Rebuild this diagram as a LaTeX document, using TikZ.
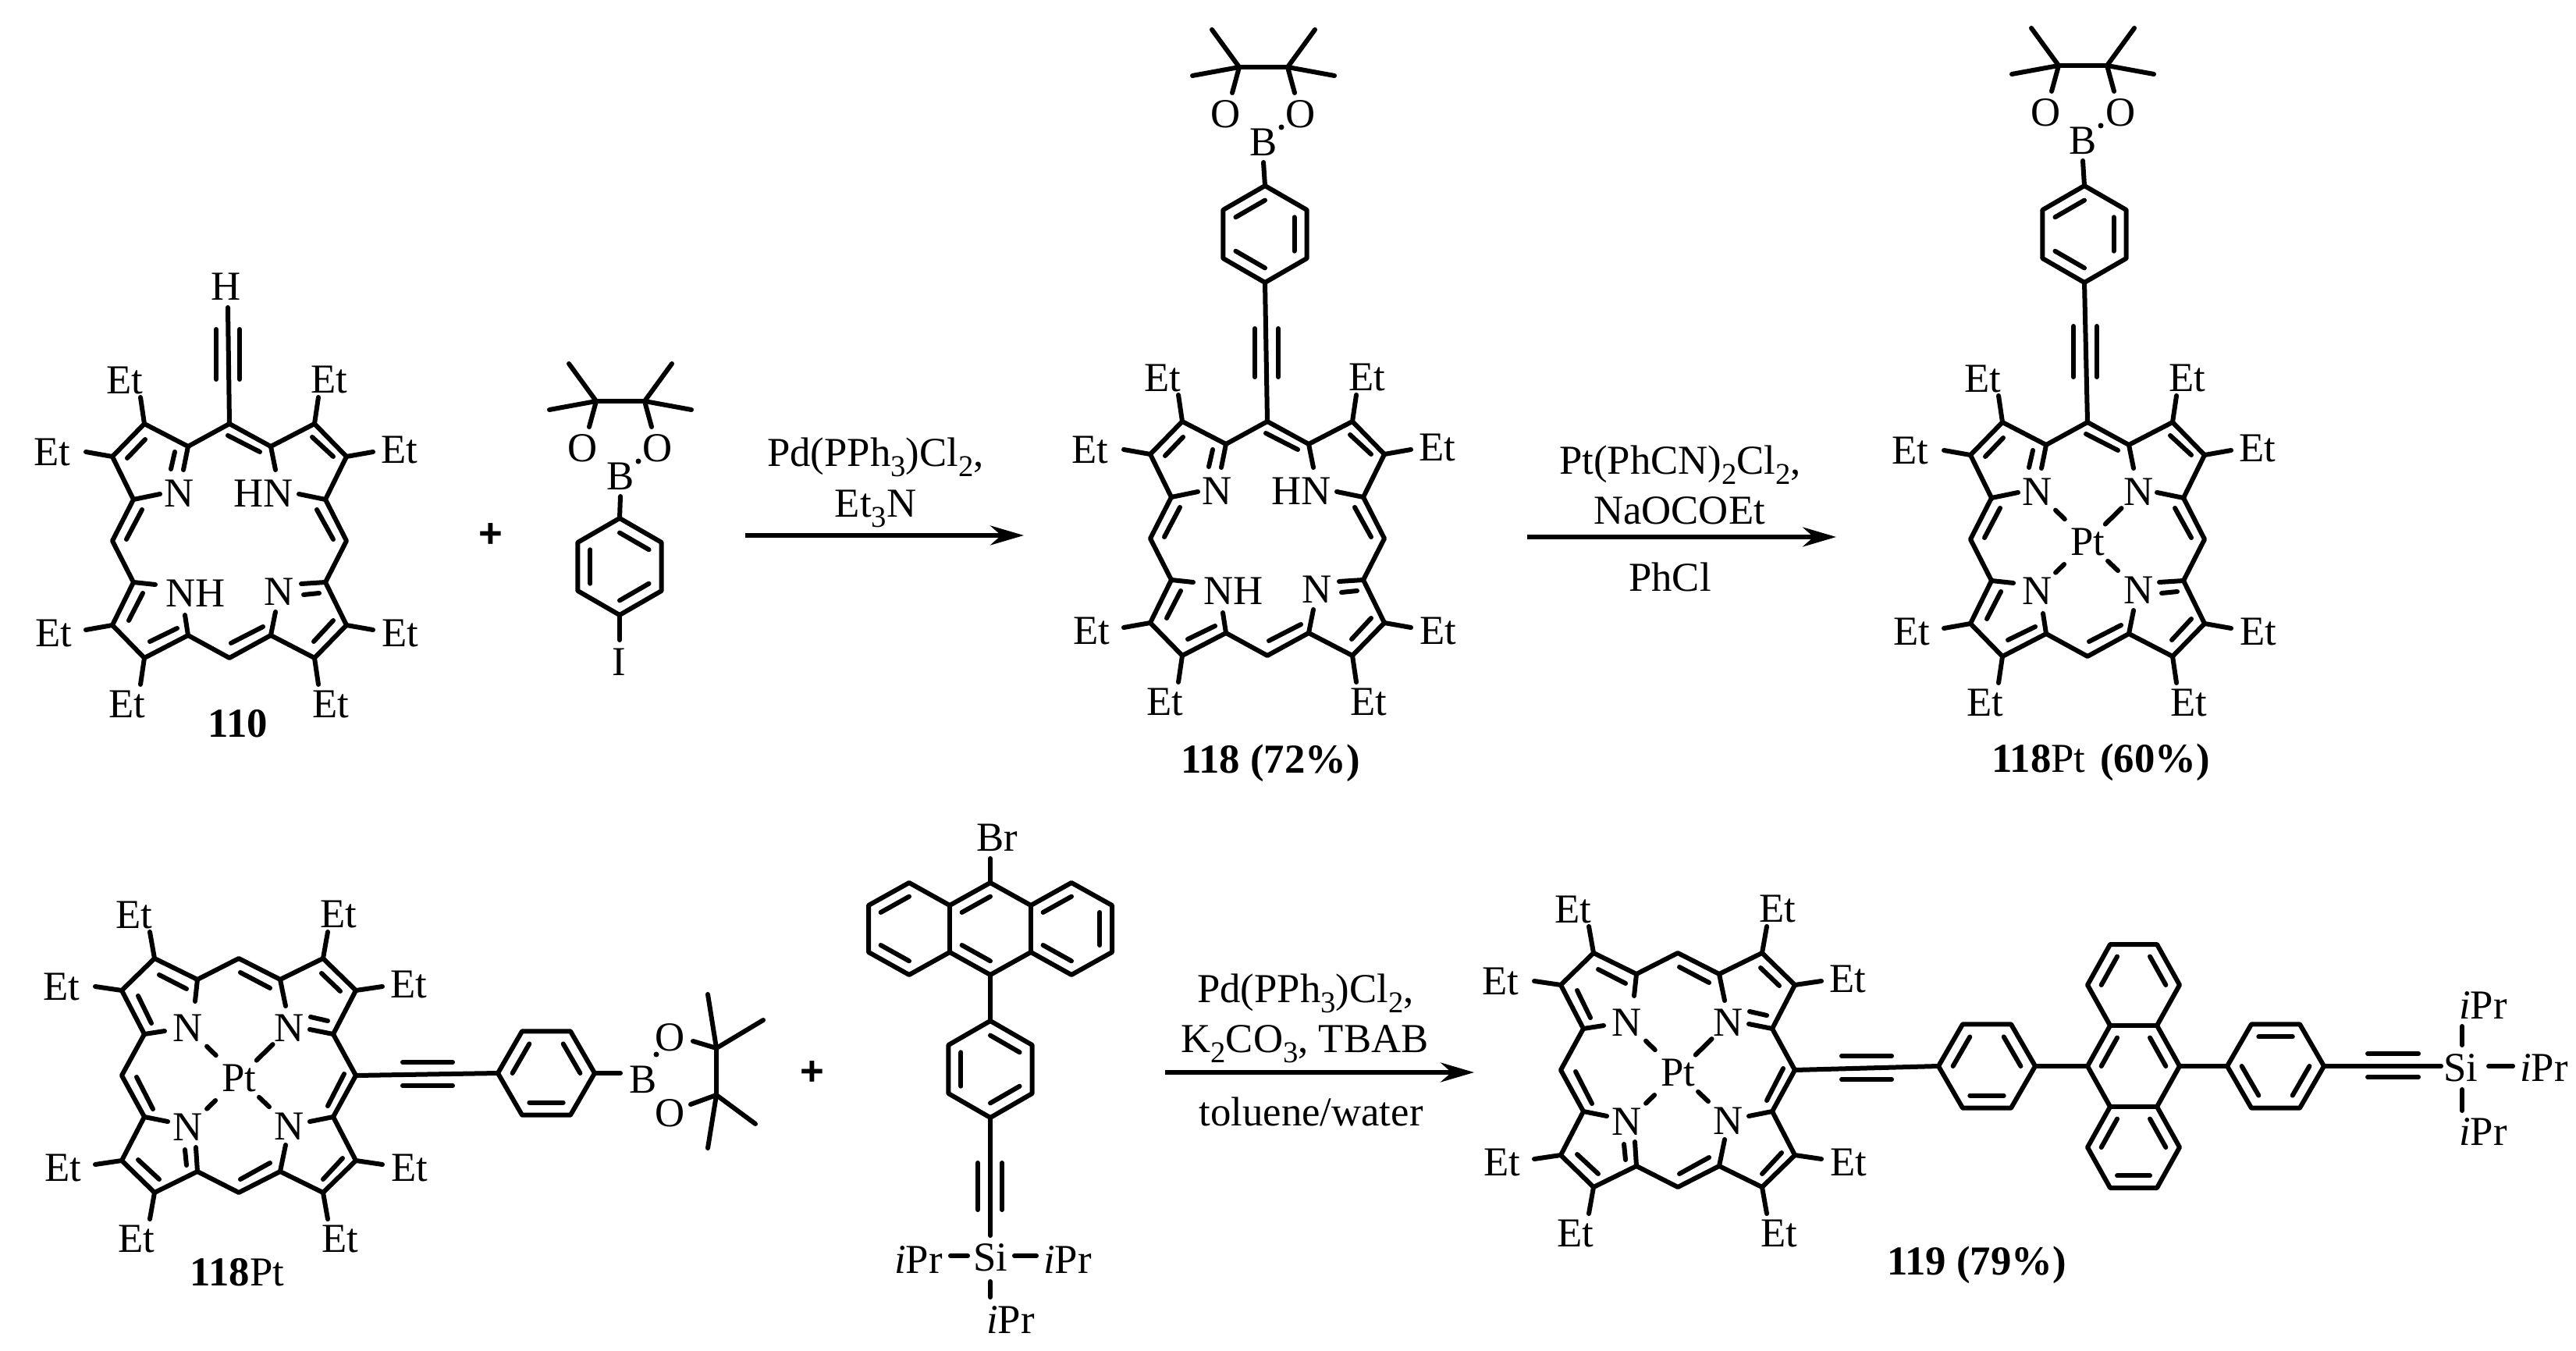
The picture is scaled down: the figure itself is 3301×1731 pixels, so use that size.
\documentclass[tikz,border=0pt]{standalone}
\usepackage{fontspec}
\setmainfont{Liberation Serif}
\newfontfamily\plusfont{Liberation Sans}
\usepackage{tikz}
\usetikzlibrary{arrows.meta}
\usetikzlibrary{calc}

\tikzset{bond/.style={line width=.06cm,line cap=round,line join=round}}
\tikzset{rxn/.style={line width=.055cm,-{Stealth[length=.43cm,width=.25cm]}}}
\tikzset{atom/.style={inner sep=0pt,font=\fontsize{15}{18}\selectfont}}
\tikzset{caption/.style={atom,anchor=base}}
\tikzset{plussign/.style={inner sep=0pt,font=\fontsize{15}{18}\selectfont\plusfont\bfseries}}

\newcommand{\chsub}[1]{\raisebox{-.25em}{\fontsize{11}{12}\selectfont #1}}

\newcommand{\porph}[4]{
\coordinate (#1) at (#2,#3);
\begin{scope}[shift={(#2,#3)},rotate=#4,name prefix=#1-]
\coordinate (m1) at (0,-150);
\coordinate (m2) at (150,0);
\coordinate (m3) at (0,150);
\coordinate (m4) at (-150,0);
\coordinate (a1) at (53,-121);
\coordinate (a2) at (123,-53);
\coordinate (a3) at (123,53);
\coordinate (a4) at (53,121);
\coordinate (a5) at (-53,121);
\coordinate (a6) at (-123,53);
\coordinate (a7) at (-123,-53);
\coordinate (a8) at (-53,-121);
\coordinate (b1) at (109,-150);
\coordinate (b2) at (150,-108);
\coordinate (b3) at (150,108);
\coordinate (b4) at (109,150);
\coordinate (b5) at (-109,150);
\coordinate (b6) at (-150,108);
\coordinate (b7) at (-150,-108);
\coordinate (b8) at (-109,-150);
\draw[bond] (m1) -- (a1) -- (b1) -- (b2) -- (a2) -- (m2) -- (a3) -- (b3) -- (b4) -- (a4) -- (m3)
 -- (a5) -- (b5) -- (b6) -- (a6) -- (m4) -- (a7) -- (b7) -- (b8) -- (a8) -- cycle;
\draw[bond] (-2,-135) -- (39,-114);
\draw[bond] (106,-133) -- (133,-108);
\draw[bond] (112,-40) -- (133,-2);
\draw[bond] (133,102) -- (108,129);
\draw[bond] (43,110) -- (2,131);
\draw[bond] (-67,112) -- (-102,129);
\draw[bond] (-111,67) -- (-129,102);
\draw[bond] (-112,-40) -- (-132,-2);
\draw[bond] (-131,-106) -- (-108,-130);
\draw[bond] (a8) -- (-59,-91);
\draw[bond] (-70,-114) -- (-75,-92);
\draw[bond] (a7) -- (-89,-60);
\draw[bond] (a1) -- (59,-91);
\draw[bond] (a2) -- (89,-60);
\draw[bond] (a6) -- (-95,56);
\draw[bond] (a5) -- (-57,95);
\draw[bond] (a3) -- (92,55);
\draw[bond] (95,69) -- (115,67);
\draw[bond] (a4) -- (59,91);
\draw[bond] (b1) -- (114,-184);
\draw[bond] (b2) -- (184,-114);
\draw[bond] (b3) -- (184,114);
\draw[bond] (b4) -- (114,184);
\draw[bond] (b5) -- (-114,184);
\draw[bond] (b6) -- (-184,114);
\draw[bond] (b7) -- (-184,-114);
\draw[bond] (b8) -- (-114,-184);
\end{scope}
\foreach \ex/\ey [count=\n] in {-134/-206,128/-207,-227/-114,218/-117,-225/118,219/118,-131/209,130/209}
 \node[atom] (#1-et\n) at ($(#1)+(\ex,\ey)$) {Et};
}

\newcommand{\freebase}[1]{
\node[atom] (#1-n1) at ($(#1)+(-64,-61)$) {N};
\node[atom,anchor=east] (#1-n2) at ($(#1)+(82,-61)$) {HN};
\node[atom,anchor=west] (#1-n3) at ($(#1)+(-82,67)$) {NH};
\node[atom] (#1-n4) at ($(#1)+(64,65)$) {N};
}

\newcommand{\ptcore}[1]{
\node[atom] (#1-pt) at ($(#1)+(0,3)$) {Pt};
\node[atom] (#1-n1) at ($(#1)+(-65,-61)$) {N};
\node[atom] (#1-n2) at ($(#1)+(65,-61)$) {N};
\node[atom] (#1-n3) at ($(#1)+(-65,66)$) {N};
\node[atom] (#1-n4) at ($(#1)+(65,65)$) {N};
\draw[bond] ($(#1-n1)!.37!(#1-pt)$) -- ($(#1-n1)!.55!(#1-pt)$);
\draw[bond] ($(#1-n2)!.33!(#1-pt)$) -- ($(#1-n2)!.65!(#1-pt)$);
\draw[bond] ($(#1-n3)!.37!(#1-pt)$) -- ($(#1-n3)!.54!(#1-pt)$);
\draw[bond] ($(#1-n4)!.40!(#1-pt)$) -- ($(#1-n4)!.60!(#1-pt)$);
}

\newcommand{\phenyl}[4]{
\coordinate (#1) at (#2,#3);
\foreach \k in {0,...,5}
 \coordinate (#1-\k) at ($(#1)+({#4-60*\k}:62)$);
\draw[bond] (#1-0) -- (#1-1) -- (#1-2) -- (#1-3) -- (#1-4) -- (#1-5) -- cycle;
\draw[bond] ($(#1)!.7!(#1-0)$) -- ($(#1)!.7!(#1-1)$);
\draw[bond] ($(#1)!.7!(#1-2)$) -- ($(#1)!.7!(#1-3)$);
\draw[bond] ($(#1)!.7!(#1-4)$) -- ($(#1)!.7!(#1-5)$);
}

\newcommand{\bpin}[3]{
\begin{scope}[shift={(#2,#3)},name prefix=#1-]
\node[atom] (b) at (0,0) {B};
\node[atom] (o1) at (-48,-36) {O};
\node[atom] (o2) at (48,-36) {O};
\coordinate (c1) at (-31,-96);
\coordinate (c2) at (31,-96);
\coordinate (bb) at (0,26);
\draw[bond] (c1) -- (c2);
\draw[bond] (c1) -- (-66,-144);
\draw[bond] (c1) -- (-91,-85);
\draw[bond] (c1) -- (-40,-63);
\draw[bond] (c2) -- (66,-144);
\draw[bond] (c2) -- (91,-85);
\draw[bond] (c2) -- (40,-63);
\fill (23,-19) circle[radius=3.5];
\end{scope}
}

\newcommand{\anth}[4]{
\begin{scope}[shift={(#2,#3)},rotate=#4,name prefix=#1-]
\coordinate (l) at (-104,0);
\coordinate (c) at (0,0);
\coordinate (r) at (104,0);
\coordinate (c1) at (0,-59);
\coordinate (c2) at (52,-30);
\coordinate (c3) at (104,-59);
\coordinate (c4) at (156,-30);
\coordinate (c5) at (156,30);
\coordinate (c6) at (104,59);
\coordinate (c7) at (52,30);
\coordinate (c8) at (0,59);
\coordinate (c9) at (-52,30);
\coordinate (c10) at (-104,59);
\coordinate (c11) at (-156,30);
\coordinate (c12) at (-156,-30);
\coordinate (c13) at (-104,-59);
\coordinate (c14) at (-52,-30);
\draw[bond] (c1) -- (c2) -- (c3) -- (c4) -- (c5) -- (c6) -- (c7) -- (c8) -- (c9) -- (c10)
 -- (c11) -- (c12) -- (c13) -- (c14) -- cycle;
\draw[bond] (c2) -- (c7);
\draw[bond] (c14) -- (c9);
\draw[bond] ($(l)!.7!(c12)$) -- ($(l)!.7!(c13)$);
\draw[bond] ($(l)!.7!(c11)$) -- ($(l)!.7!(c10)$);
\draw[bond] ($(c)!.7!(c14)$) -- ($(c)!.7!(c1)$);
\draw[bond] ($(c)!.7!(c9)$) -- ($(c)!.7!(c8)$);
\draw[bond] ($(r)!.7!(c2)$) -- ($(r)!.7!(c3)$);
\draw[bond] ($(r)!.7!(c7)$) -- ($(r)!.7!(c6)$);
\draw[bond] ($(r)!.7!(c4)$) -- ($(r)!.7!(c5)$);
\end{scope}
}

\begin{document}
\begin{tikzpicture}[x=.01cm,y=-.01cm]
\useasboundingbox (0,0) rectangle (3301,1731);

\porph{p1}{294}{693}{0}
\freebase{p1}
\node[atom] (h1) at (290,367) {H};
\coordinate (h1b) at (292,394);
\draw[bond] (p1-m1) -- (h1b);
\draw[bond] (277,422) -- (277,486);
\draw[bond] (307,422) -- (307,486);
\node[caption] (l110) at (305,944) {\textbf{110}};
\node[plussign] (plus1) at (629,686) {+};

\bpin{q1}{795}{610}
\phenyl{r1}{794}{726}{90}
\draw[bond] (q1-bb) -- (r1-3);
\node[atom] (i1) at (793,848) {I};
\coordinate (i1b) at (794,820);
\draw[bond] (r1-0) -- (i1b);

\coordinate (ar1s) at (955,686);
\coordinate (ar1e) at (1312,686);
\draw[rxn] (ar1s) -- (ar1e);
\node[atom,anchor=base] (t11) at (1122,597) {Pd(PPh\chsub{3})Cl\chsub{2},};
\node[atom,anchor=base] (t12) at (1122,662) {Et\chsub{3}N};

\porph{p2}{1624}{690}{0}
\freebase{p2}
\phenyl{r2}{1621}{300}{-90}
\bpin{q2}{1619}{182}
\draw[bond] (q2-bb) -- (r2-0);
\draw[bond] (p2-m1) -- (r2-3);
\draw[bond] (1608,421) -- (1608,483);
\draw[bond] (1638,421) -- (1638,483);
\node[caption] (l118) at (1628,990) {\textbf{118 (72\%)}};

\coordinate (ar2s) at (1957,688);
\coordinate (ar2e) at (2353,688);
\draw[rxn] (ar2s) -- (ar2e);
\node[atom,anchor=base] (t21) at (2153,607) {Pt(PhCN)\chsub{2}Cl\chsub{2},};
\node[atom,anchor=base] (t22) at (2152,671) {NaOCOEt};
\node[atom,anchor=base] (t23) at (2140,757) {PhCl};

\porph{p3}{2675}{691}{0}
\ptcore{p3}
\phenyl{r3}{2671}{300}{-90}
\bpin{q3}{2669}{180}
\draw[bond] (q3-bb) -- (r3-0);
\draw[bond] (p3-m1) -- (r3-3);
\draw[bond] (2657,418) -- (2657,483);
\draw[bond] (2687,418) -- (2687,483);
\node[caption] (l118pt) at (2692,989) {\textbf{118}Pt\hspace{.1em} \textbf{(60\%)}};

\porph{p4}{306}{1378}{-90}
\ptcore{p4}
\phenyl{r4}{700}{1375}{0}
\draw[bond] (p4-m1) -- (r4-3);
\draw[bond] (516,1361) -- (580,1361);
\draw[bond] (516,1391) -- (580,1391);
\node[atom] (b4) at (824,1383) {B};
\node[atom] (o41) at (859,1329) {O};
\node[atom] (o42) at (859,1426) {O};
\coordinate (b4b) at (795,1375);
\coordinate (c41) at (918,1343);
\coordinate (c42) at (918,1403);
\draw[bond] (r4-0) -- (b4b);
\draw[bond] (c41) -- (c42);
\draw[bond] (c41) -- (907,1274);
\draw[bond] (c41) -- (978,1307);
\draw[bond] (c41) -- (888,1334);
\draw[bond] (c42) -- (968,1440);
\draw[bond] (c42) -- (907,1471);
\draw[bond] (c42) -- (885,1415);
\fill (841,1351) circle[radius=3.5];
\node[caption] (l118pt2) at (304,1647) {\textbf{118}Pt};
\node[plussign] (plus2) at (1041,1375) {+};

\anth{n1}{1269}{1190}{0}
\node[atom] (br) at (1278,1073) {Br};
\coordinate (brb) at (1269,1100);
\draw[bond] (n1-c1) -- (brb);
\phenyl{r5}{1269}{1370}{90}
\draw[bond] (n1-c8) -- (r5-3);
\node[atom] (si1) at (1269,1611) {Si};
\coordinate (si1b) at (1269,1583);
\draw[bond] (r5-0) -- (si1b);
\draw[bond] (1253,1490) -- (1253,1550);
\draw[bond] (1284,1490) -- (1284,1550);
\node[atom] (ipr1) at (1177,1614) {\textit{i}Pr};
\node[atom] (ipr2) at (1368,1614) {\textit{i}Pr};
\node[atom] (ipr3) at (1295,1691) {\textit{i}Pr};
\draw[bond] (1218,1609) -- (1240,1609);
\draw[bond] (1300,1609) -- (1328,1609);
\draw[bond] (1269,1642) -- (1269,1662);

\coordinate (ar3s) at (1493,1374);
\coordinate (ar3e) at (1889,1374);
\draw[rxn] (ar3s) -- (ar3e);
\node[atom,anchor=base] (t31) at (1673,1284) {Pd(PPh\chsub{3})Cl\chsub{2},};
\node[atom,anchor=base] (t32) at (1672,1348) {K\chsub{2}CO\chsub{3}, TBAB};
\node[atom,anchor=base] (t33) at (1680,1442) {toluene/water};

\porph{p5}{2150}{1371}{-90}
\ptcore{p5}
\phenyl{r6}{2546}{1366}{0}
\draw[bond] (p5-m1) -- (r6-3);
\draw[bond] (2360,1353) -- (2424,1353);
\draw[bond] (2360,1383) -- (2424,1383);
\anth{n2}{2734}{1366}{-90}
\draw[bond] (r6-0) -- (n2-c8);
\phenyl{r7}{2916}{1366}{180}
\draw[bond] (n2-c1) -- (r7-0);
\node[atom] (si2) at (3153,1368) {Si};
\coordinate (si2b) at (3128,1366);
\draw[bond] (r7-3) -- (si2b);
\draw[bond] (3034,1350) -- (3099,1350);
\draw[bond] (3034,1380) -- (3099,1380);
\node[atom] (ipr4) at (3182,1288) {\textit{i}Pr};
\node[atom] (ipr5) at (3260,1368) {\textit{i}Pr};
\node[atom] (ipr6) at (3182,1450) {\textit{i}Pr};
\draw[bond] (3155,1315) -- (3155,1339);
\draw[bond] (3155,1396) -- (3155,1423);
\draw[bond] (3189,1366) -- (3220,1366);
\node[caption] (l119) at (2533,1633) {\textbf{119 (79\%)}};
\end{tikzpicture}
\end{document}
